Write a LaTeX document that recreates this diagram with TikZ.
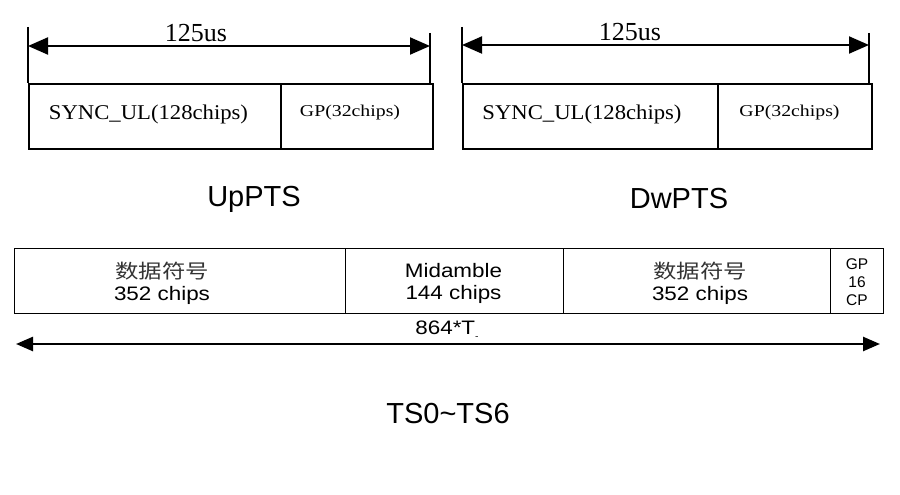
\documentclass[tikz,border=0pt]{standalone}
\usepackage{fontspec}
\usepackage{graphicx}
\setmainfont{Liberation Serif}
\newfontfamily\arial{Liberation Sans}
\newfontfamily\arialw[FakeStretch=1.15]{Liberation Sans}
\newfontfamily\timesw[FakeStretch=1.08]{Liberation Serif}
\newfontfamily\timesg[FakeStretch=1.2]{Liberation Serif}
\newfontfamily\cjk[FakeStretch=1.2]{Noto Sans CJK SC}
\usetikzlibrary{arrows.meta}
\begin{document}
\begin{tikzpicture}[x=1pt,y=-1pt,
  topbox/.style={draw,line width=2pt,minimum height=65pt,inner sep=0pt,anchor=north west},
  botbox/.style={draw,line width=1pt,minimum height=65pt,inner sep=0pt,anchor=north west},
  tick/.style={line width=2pt},
  toparrow/.style={line width=2pt,{Triangle[length=20pt,width=17pt]}-{Triangle[length=20pt,width=17pt]}},
  botarrow/.style={line width=2.5pt,{Triangle[length=17pt,width=14pt]}-{Triangle[length=17pt,width=14pt]}},
  durlabel/.style={font=\fontsize{26}{30}\selectfont,inner sep=0pt},
  synclabel/.style={font=\timesw\fontsize{21}{24}\selectfont,inner sep=0pt},
  gplabel/.style={font=\timesg\fontsize{16.5}{20}\selectfont,inner sep=0pt},
  biglabel/.style={font=\arial\fontsize{29}{34}\selectfont,inner sep=0pt},
  celllabel/.style={font=\arialw\fontsize{19.5}{22}\selectfont,align=center,inner sep=0pt},
  smalllabel/.style={font=\arial\fontsize{15.5}{18}\selectfont,align=center,inner sep=0pt}]
\useasboundingbox (0,0) rectangle (900,495);

% ---------- UpPTS ----------
\node[topbox,minimum width=252pt] (sync1) at (28,83) {};
\node[topbox,minimum width=152pt] (gp1) at (280,83) {};
\node[synclabel] (sync1t) at (148.5,114) {SYNC\_UL(128chips)};
\node[gplabel] (gp1t) at (350,113) {GP(32chips)};
\coordinate (l1top) at (28,27);
\coordinate (r1top) at (430,33);
\coordinate (r1bot) at (430,83);
\coordinate (a1l) at (28,46);
\coordinate (a1r) at (430,46);
\draw[tick] (l1top) -- (sync1.north west);
\draw[tick] (r1top) -- (r1bot);
\draw[toparrow] (a1l) -- (a1r);
\node[durlabel] (d1) at (196,33) {125us};
\node[biglabel] (uppts) at (254,199) {UpPTS};

% ---------- DwPTS ----------
\node[topbox,minimum width=255pt] (sync2) at (462,83) {};
\node[topbox,minimum width=154pt] (gp2) at (717,83) {};
\node[synclabel] (sync2t) at (582,114) {SYNC\_UL(128chips)};
\node[gplabel] (gp2t) at (789.5,113) {GP(32chips)};
\coordinate (l2top) at (462,27);
\coordinate (r2top) at (869,33);
\coordinate (r2bot) at (869,83);
\coordinate (a2l) at (462,45);
\coordinate (a2r) at (869,45);
\draw[tick] (l2top) -- (sync2.north west);
\draw[tick] (r2top) -- (r2bot);
\draw[toparrow] (a2l) -- (a2r);
\node[durlabel] (d2) at (630,32) {125us};
\node[biglabel] (dwpts) at (679,199) {DwPTS};

% ---------- TS0~TS6 ----------
\node[botbox,minimum width=331pt] (data1) at (14,248) {};
\node[botbox,minimum width=218pt] (mid) at (345,248) {};
\node[botbox,minimum width=267pt] (data2) at (563,248) {};
\node[botbox,minimum width=53pt] (gp3) at (830,248) {};
\node[celllabel] (data1t) at (162,283) {{\cjk\color{black!80}数据符号}\\352 chips};
\node[celllabel] (midt) at (453.5,283) {Midamble\\144 chips};
\node[celllabel] (data2t) at (700,283) {{\cjk\color{black!80}数据符号}\\352 chips};
\node[smalllabel] (gp3t) at (857,282) {GP\\16\\CP};
\coordinate (bl) at (16,344);
\coordinate (br) at (880,344);
\draw[botarrow] (bl) -- (br);
\node[celllabel] (tlen) at (447,330) {864*T\raisebox{-5pt}{\fontsize{9}{9}\selectfont -}};
\node[biglabel] (ts) at (448,414) {TS0\textasciitilde TS6};
\end{tikzpicture}
\end{document}
